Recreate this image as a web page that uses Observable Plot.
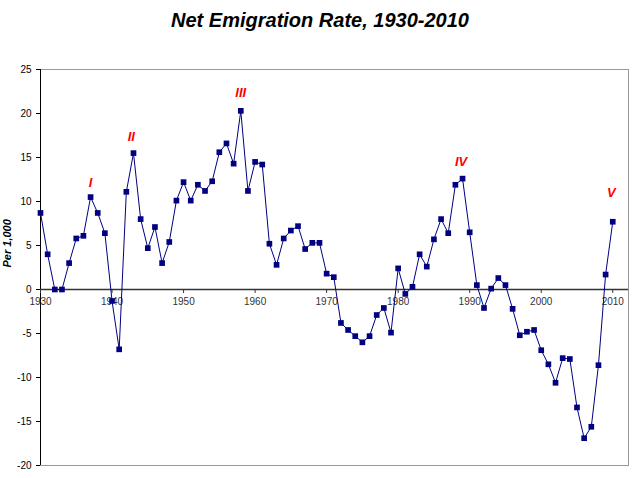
<!DOCTYPE html>
<html><head><meta charset="utf-8">
<script src="https://cdn.jsdelivr.net/npm/d3@7"></script>
<script src="https://cdn.jsdelivr.net/npm/@observablehq/plot@0.6"></script>
<style>
body{margin:0;background:#fff;font-family:"Liberation Sans",Arial,sans-serif}
#title{height:40px;line-height:40px;text-align:center;font-size:20px;font-weight:bold;font-style:italic}
</style></head><body>
<div id="title">Net Emigration Rate, 1930-2010</div>
<div id="chart"></div>
<script>
const years = d3.range(1930, 2011)
const rates = [8.7,4.0,0,0,3.0,5.8,6.1,10.5,8.7,6.4,
  -1.3,-6.8,11.1,15.5,8.0,4.7,7.1,3.0,5.4,10.1,
  12.2,10.1,11.9,11.2,12.3,15.6,16.6,14.3,20.3,11.2,
  14.5,14.2,5.2,2.8,5.8,6.7,7.2,4.6,5.3,5.3,
  1.8,1.4,-3.8,-4.6,-5.3,-6.0,-5.3,-2.9,-2.1,-4.9,
  2.4,-0.5,0.3,4.0,2.6,5.7,8.0,6.4,11.9,12.6,
  6.5,0.5,-2.1,0.1,1.3,0.5,-2.2,-5.2,-4.8,-4.6,
  -6.9,-8.5,-10.6,-7.8,-7.9,-13.4,-16.9,-15.6,-8.6,1.7,7.7]
const xTicks = [1930,1940,1950,1960,1970,1980,1990,2000,2010]
const yTicks = [-20,-15,-10,-5,0,5,10,15,20,25]
const waveLabels = ["I","II","III","IV","V"]
const waveYears = [1937,1942.7,1958,1988.8,2009.8]
const waveValues = [12.1,17.3,22.3,14.5,11.0]

const data = years.map((y, i) => ({year: y, rate: rates[i]}))
const waves = waveLabels.map((t, i) => ({t, x: waveYears[i], y: waveValues[i]}))

const chart = Plot.plot({
  width: 640, height: 438,
  marginLeft: 40, marginRight: 12, marginTop: 29, marginBottom: 13,
  style: {fontFamily: '"Liberation Sans",Arial,sans-serif', fontSize: "10px"},
  x: {domain: [1930, 2012.2], axis: null},
  y: {domain: [-20, 25], ticks: yTicks, tickSize: 4, tickFormat: d => d, label: null},
  marks: [
    Plot.frame({stroke: "#999"}),
    Plot.ruleX([1930], {stroke: "black"}),
    Plot.ruleY([0], {stroke: "#333", strokeWidth: 1.5}),
    Plot.ruleX(xTicks, {x: d => d, y1: 0, y2: -0.45, stroke: "#333"}),
    Plot.text(xTicks, {x: d => d, y: 0, dy: 12, text: d => String(d), fill: "#333"}),
    Plot.axisY({ticks: yTicks, tickSize: 4, tickFormat: d => d, label: null}),
    Plot.text(["Per 1,000"], {frameAnchor: "left", dx: -33, rotate: -90, fontWeight: "bold", fontStyle: "italic", fontSize: 11}),
    Plot.line(data, {x: "year", y: "rate", stroke: "#000080", strokeWidth: 1}),
    Plot.dot(data, {x: "year", y: "rate", symbol: "square", r: 3.2, fill: "#000080"}),
    Plot.text(waves, {x: "x", y: "y", text: "t", fill: "red", fontWeight: "bold", fontStyle: "italic", fontSize: 13})
  ]
})
document.getElementById("chart").append(chart)
</script></body></html>
